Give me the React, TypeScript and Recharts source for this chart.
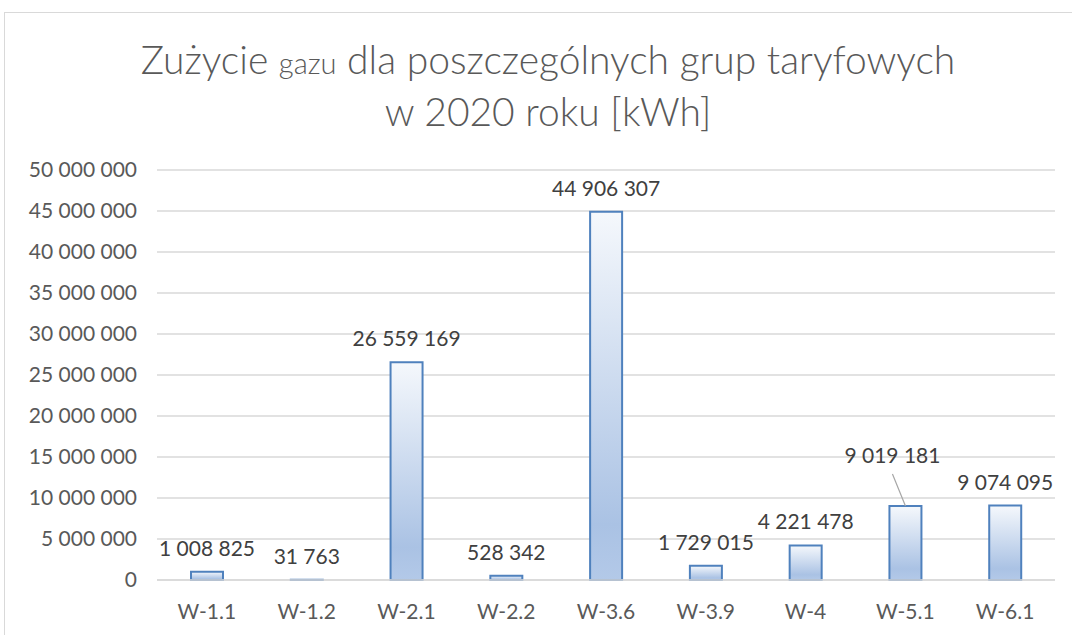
import React from "react"
import { BarChart, Bar, XAxis, YAxis, CartesianGrid, LabelList } from "recharts"

const groups = ["W-1.1", "W-1.2", "W-2.1", "W-2.2", "W-3.6", "W-3.9", "W-4", "W-5.1", "W-6.1"]
const usage = [1008825, 31763, 26559169, 528342, 44906307, 1729015, 4221478, 9019181, 9074095]
const yTicks = [0, 5000000, 10000000, 15000000, 20000000, 25000000, 30000000, 35000000, 40000000, 45000000, 50000000]

const data = groups.map((g, i) => ({ group: g, usage: usage[i] }))

const fmt = (v: number) => String(Math.round(v)).replace(/\B(?=(\d{3})+(?!\d))/g, " ")

const FONT = "Lato, 'Open Sans', sans-serif"

// Excel moved the W-5.1 label up and drew a leader line to it
const renderLabel = (props: any) => {
  const { x, y, width, value, index } = props
  const cx = x + width / 2
  if (groups[index] === "W-5.1") {
    return (
      <g>
        <line x1={cx - 13} y1={y - 32} x2={cx} y2={y} stroke="#a6a6a6" strokeWidth={1.2} />
        <text x={cx - 13} y={y - 43} textAnchor="middle" fontSize={21} fill="#404040" fontFamily={FONT}>
          {fmt(value)}
        </text>
      </g>
    )
  }
  return (
    <text x={cx} y={y - 16} textAnchor="middle" fontSize={21} fill="#404040" fontFamily={FONT}>
      {fmt(value)}
    </text>
  )
}

export default function App() {
  return (
    <div style={{ position: "absolute", left: 0, top: 0, width: 1072, height: 635, overflow: "hidden", background: "#fff", fontFamily: FONT }}>
      <div style={{ position: "absolute", left: 4, top: 12, width: 1200, height: 800, border: "1.5px solid #d9d9d9" }} />
      <div style={{ position: "absolute", left: 0, top: 35, width: 1096, textAlign: "center", color: "#595959", fontSize: 39, fontWeight: 300, lineHeight: "48px" }}>
        Zużycie <span style={{ fontSize: 29 }}>gazu</span> dla poszczególnych grup taryfowych
        <br />w 2020 roku [kWh]
      </div>
      <div style={{ position: "absolute", left: 0, top: 0 }}>
        <BarChart width={1072} height={635} data={data} margin={{ top: 170, right: 17, bottom: 25, left: 0 }}>
          <defs>
            <linearGradient id="barFill" x1="0" y1="0" x2="0" y2="1">
              <stop offset="0%" stopColor="#f5f8fc" />
              <stop offset="85%" stopColor="#aac2e4" />
              <stop offset="100%" stopColor="#b3c9e8" />
            </linearGradient>
          </defs>
          <CartesianGrid vertical={false} stroke="#d9d9d9" strokeWidth={1.3} />
          <XAxis
            dataKey="group"
            height={30}
            axisLine={{ stroke: "#d9d9d9", strokeWidth: 1.3 }}
            tickLine={false}
            tickSize={0}
            tickMargin={24}
            tick={{ fontSize: 21, fill: "#595959", fontFamily: FONT }}
            interval={0}
          />
          <YAxis
            width={157}
            domain={[0, 50000000]}
            ticks={yTicks}
            tickFormatter={fmt}
            axisLine={false}
            tickLine={false}
            tickSize={0}
            tickMargin={20}
            tick={{ fontSize: 21, fill: "#595959", fontFamily: FONT }}
            interval={0}
          />
          <Bar dataKey="usage" barSize={32} fill="url(#barFill)" stroke="#4f81bd" strokeWidth={2} isAnimationActive={false}>
            <LabelList dataKey="usage" content={renderLabel} />
          </Bar>
        </BarChart>
      </div>
    </div>
  )
}
